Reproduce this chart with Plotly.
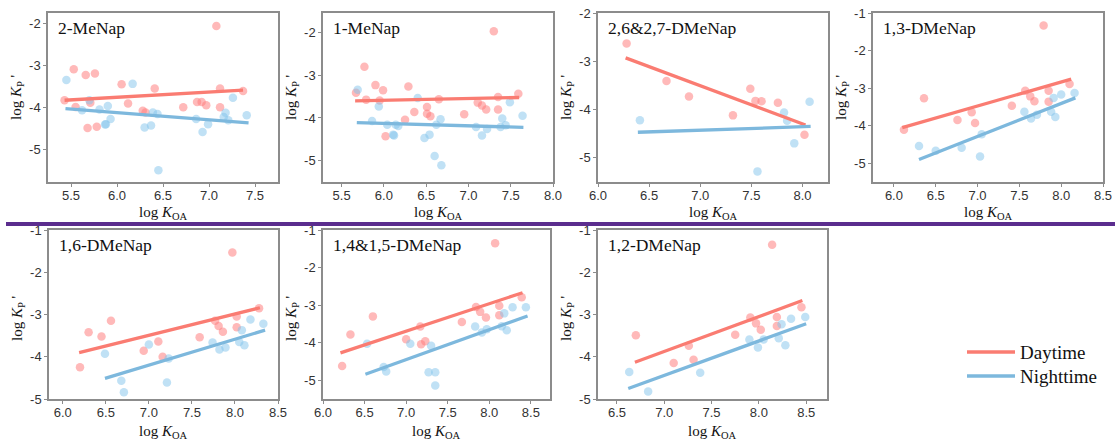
import plotly.graph_objects as go

W, H = 1119, 448

# ---------------- data (log KOA vs log Kp') ----------------
names = ["2-MeNap", "1-MeNap", "2,6&2,7-DMeNap", "1,3-DMeNap",
         "1,6-DMeNap", "1,4&1,5-DMeNap", "1,2-DMeNap"]

p1_day_x = [5.43, 5.53, 5.55, 5.66, 5.76, 5.68, 5.78, 5.71, 6.05, 6.12, 6.28, 6.31, 6.41, 6.72, 6.87, 6.92, 6.97, 7.08, 7.12, 7.12, 7.37]
p1_day_y = [-3.83, -3.09, -3.99, -3.23, -3.19, -4.49, -4.46, -3.89, -3.45, -3.91, -4.08, -4.12, -3.55, -4.00, -3.87, -3.87, -3.95, -2.06, -3.55, -4.00, -3.61]
p1_night_x = [5.45, 5.62, 5.70, 5.81, 5.88, 5.87, 5.90, 5.93, 6.17, 6.30, 6.37, 6.39, 6.44, 6.45, 6.86, 6.93, 6.99, 7.16, 7.18, 7.21, 7.26, 7.41]
p1_night_y = [-3.35, -4.07, -3.83, -4.05, -4.40, -4.41, -3.97, -4.28, -3.44, -4.48, -4.43, -4.12, -4.16, -5.50, -4.28, -4.59, -4.40, -4.23, -4.13, -4.31, -3.77, -4.19]
p1_day_fit_x, p1_day_fit_y = [5.43, 7.37], [-3.83, -3.59]
p1_night_fit_x, p1_night_fit_y = [5.44, 7.43], [-4.03, -4.37]

p2_day_x = [5.67, 5.77, 5.79, 5.90, 5.95, 5.99, 6.02, 6.25, 6.29, 6.36, 6.51, 6.51, 6.55, 6.65, 6.95, 7.11, 7.16, 7.21, 7.30, 7.35, 7.35, 7.59]
p2_day_y = [-3.41, -2.80, -3.57, -3.23, -3.59, -3.35, -4.43, -4.04, -3.26, -3.86, -3.74, -3.90, -3.96, -3.56, -3.91, -3.64, -3.71, -3.80, -1.97, -3.80, -3.51, -3.43]
p2_night_x = [5.69, 5.86, 5.94, 6.04, 6.11, 6.12, 6.14, 6.17, 6.40, 6.48, 6.54, 6.60, 6.62, 6.67, 6.68, 7.09, 7.16, 7.22, 7.38, 7.40, 7.44, 7.49, 7.64]
p2_night_y = [-3.34, -4.07, -3.73, -4.16, -4.39, -4.41, -4.16, -4.19, -3.53, -4.47, -4.39, -4.89, -4.16, -4.03, -5.11, -4.21, -4.41, -4.26, -4.21, -4.01, -4.17, -3.63, -3.95]
p2_day_fit_x, p2_day_fit_y = [5.66, 7.60], [-3.60, -3.52]
p2_night_fit_x, p2_night_fit_y = [5.68, 7.65], [-4.11, -4.22]

p3_day_x = [6.28, 6.67, 6.89, 7.32, 7.49, 7.54, 7.60, 7.76, 8.02]
p3_day_y = [-2.63, -3.41, -3.73, -4.12, -3.57, -3.82, -3.83, -3.86, -4.52]
p3_night_x = [6.41, 7.56, 7.82, 7.85, 7.92, 8.07]
p3_night_y = [-4.22, -5.28, -4.06, -4.23, -4.70, -3.84]
p3_day_fit_x, p3_day_fit_y = [6.27, 8.03], [-2.93, -4.32]
p3_night_fit_x, p3_night_fit_y = [6.39, 8.08], [-4.47, -4.35]

p4_day_x = [6.12, 6.36, 6.76, 6.93, 6.97, 7.41, 7.57, 7.63, 7.68, 7.79, 7.85, 7.85, 8.10]
p4_day_y = [-4.11, -3.27, -3.85, -3.64, -3.93, -3.47, -3.07, -3.22, -3.35, -1.33, -3.07, -3.36, -2.89]
p4_night_x = [6.30, 6.50, 6.81, 7.03, 7.05, 7.56, 7.64, 7.71, 7.88, 7.91, 7.93, 8.00, 8.16]
p4_night_y = [-4.54, -4.67, -4.59, -4.82, -4.23, -3.63, -3.81, -3.71, -3.63, -3.26, -3.77, -3.17, -3.13]
p4_day_fit_x, p4_day_fit_y = [6.10, 8.12], [-4.05, -2.76]
p4_night_fit_x, p4_night_fit_y = [6.30, 8.17], [-4.90, -3.26]

p5_day_x = [6.20, 6.30, 6.45, 6.56, 6.94, 7.11, 7.16, 7.59, 7.77, 7.81, 7.86, 7.97, 8.02, 8.02, 8.28]
p5_day_y = [-4.25, -3.42, -3.52, -3.15, -3.86, -3.64, -4.00, -3.54, -3.15, -3.27, -3.41, -1.53, -3.05, -3.30, -2.85]
p5_night_x = [6.49, 6.68, 6.71, 7.00, 7.23, 7.21, 7.74, 7.82, 7.89, 8.08, 8.05, 8.11, 8.18, 8.33]
p5_night_y = [-3.93, -4.57, -4.84, -3.71, -4.04, -4.61, -3.66, -3.83, -3.78, -3.37, -3.65, -3.73, -3.12, -3.22]
p5_day_fit_x, p5_day_fit_y = [6.19, 8.29], [-3.90, -2.84]
p5_night_fit_x, p5_night_fit_y = [6.49, 8.35], [-4.51, -3.37]

p6_day_x = [6.23, 6.33, 6.60, 7.00, 7.17, 7.18, 7.23, 7.67, 7.84, 7.89, 7.96, 8.07, 8.12, 8.12, 8.39]
p6_day_y = [-4.62, -3.78, -3.30, -3.91, -3.57, -4.04, -3.96, -3.45, -3.05, -3.18, -3.33, -1.35, -3.02, -3.27, -2.79]
p6_night_x = [6.53, 6.73, 6.76, 7.05, 7.27, 7.30, 7.35, 7.35, 7.83, 7.91, 7.97, 8.15, 8.18, 8.21, 8.28, 8.44]
p6_night_y = [-4.03, -4.65, -4.77, -4.03, -4.79, -4.08, -4.79, -5.14, -3.57, -3.73, -3.64, -3.56, -3.22, -3.67, -3.06, -3.06]
p6_day_fit_x, p6_day_fit_y = [6.21, 8.40], [-4.27, -2.67]
p6_night_fit_x, p6_night_fit_y = [6.51, 8.46], [-4.84, -3.29]

p7_day_x = [6.70, 7.10, 7.26, 7.31, 7.75, 7.91, 7.97, 8.02, 8.14, 8.19, 8.19, 8.45]
p7_day_y = [-3.49, -4.15, -3.74, -4.07, -3.48, -3.07, -3.21, -3.36, -1.35, -3.06, -3.27, -2.83]
p7_night_x = [6.63, 6.83, 7.38, 7.90, 7.99, 8.05, 8.21, 8.24, 8.28, 8.34, 8.49]
p7_night_y = [-4.36, -4.82, -4.38, -3.59, -3.78, -3.59, -3.56, -3.23, -3.73, -3.10, -3.06]
p7_day_fit_x, p7_day_fit_y = [6.69, 8.46], [-4.13, -2.67]
p7_night_fit_x, p7_night_fit_y = [6.62, 8.50], [-4.75, -3.22]

# axis ranges and ticks
x_ranges = [[5.25, 7.75], [5.28, 8.0], [6.0, 8.25], [5.75, 8.5], [5.84, 8.5], [6.0, 8.73], [6.3, 8.72]]
y_ranges = [[-5.78, -1.75], [-5.5, -1.54], [-5.5, -2.0], [-5.5, -1.0], [-5.0, -1.0], [-5.5, -1.0], [-5.0, -1.0]]
x_tickvals = [[5.5, 6.0, 6.5, 7.0, 7.5], [5.5, 6.0, 6.5, 7.0, 7.5, 8.0], [6.0, 6.5, 7.0, 7.5, 8.0],
              [6.0, 6.5, 7.0, 7.5, 8.0, 8.5], [6.0, 6.5, 7.0, 7.5, 8.0, 8.5], [6.0, 6.5, 7.0, 7.5, 8.0, 8.5],
              [6.5, 7.0, 7.5, 8.0, 8.5]]
y_tickvals = [[-5, -4, -3, -2], [-5, -4, -3, -2], [-5, -4, -3, -2], [-5, -4, -3, -2, -1],
              [-5, -4, -3, -2, -1], [-5, -4, -3, -2, -1], [-5, -4, -3, -2, -1]]

series_labels = ["Daytime", "Nighttime"]

# ---------------- styling / layout ----------------
DAY_LINE = "#FA7C72"
NIGHT_LINE = "#7DB8DD"
DAY_MARK = "rgba(255,128,128,0.55)"
NIGHT_MARK = "rgba(130,195,236,0.50)"
FRAME = "#8c8c8c"
SERIF = "Liberation Serif"
SANS = "Liberation Sans"

# panel boxes in pixels: (left, right, top, bottom)
boxes = [(48, 278, 13, 182), (323, 553, 13, 182), (598, 828, 13, 182), (873, 1103, 13, 182),
         (49, 278, 230, 399), (323, 550, 230, 399), (598, 827, 230, 399)]

def px(x):
    return x / W

def py(y):
    return 1 - y / H

panels = [
    (p1_day_x, p1_day_y, p1_night_x, p1_night_y, p1_day_fit_x, p1_day_fit_y, p1_night_fit_x, p1_night_fit_y),
    (p2_day_x, p2_day_y, p2_night_x, p2_night_y, p2_day_fit_x, p2_day_fit_y, p2_night_fit_x, p2_night_fit_y),
    (p3_day_x, p3_day_y, p3_night_x, p3_night_y, p3_day_fit_x, p3_day_fit_y, p3_night_fit_x, p3_night_fit_y),
    (p4_day_x, p4_day_y, p4_night_x, p4_night_y, p4_day_fit_x, p4_day_fit_y, p4_night_fit_x, p4_night_fit_y),
    (p5_day_x, p5_day_y, p5_night_x, p5_night_y, p5_day_fit_x, p5_day_fit_y, p5_night_fit_x, p5_night_fit_y),
    (p6_day_x, p6_day_y, p6_night_x, p6_night_y, p6_day_fit_x, p6_day_fit_y, p6_night_fit_x, p6_night_fit_y),
    (p7_day_x, p7_day_y, p7_night_x, p7_night_y, p7_day_fit_x, p7_day_fit_y, p7_night_fit_x, p7_night_fit_y),
]

fig = go.Figure()
layout = dict(
    width=W, height=H,
    margin=dict(l=0, r=0, t=0, b=0, pad=0),
    paper_bgcolor="white", plot_bgcolor="white",
    showlegend=False,
)
annotations = []
shapes = []

for i, (dx, dy, nx, ny, dfx, dfy, nfx, nfy) in enumerate(panels):
    k = i + 1
    xa = "x" if k == 1 else f"x{k}"
    ya = "y" if k == 1 else f"y{k}"
    l, r, t, b = boxes[i]

    fig.add_trace(go.Scatter(x=dx, y=dy, mode="markers", xaxis=xa, yaxis=ya,
                             marker=dict(size=8.5, color=DAY_MARK, line=dict(width=0)),
                             name=series_labels[0], hoverinfo="x+y"))
    fig.add_trace(go.Scatter(x=nx, y=ny, mode="markers", xaxis=xa, yaxis=ya,
                             marker=dict(size=8.5, color=NIGHT_MARK, line=dict(width=0)),
                             name=series_labels[1], hoverinfo="x+y"))
    fig.add_trace(go.Scatter(x=dfx, y=dfy, mode="lines", xaxis=xa, yaxis=ya,
                             line=dict(color=DAY_LINE, width=3.3), name=series_labels[0]))
    fig.add_trace(go.Scatter(x=nfx, y=nfy, mode="lines", xaxis=xa, yaxis=ya,
                             line=dict(color=NIGHT_LINE, width=3.3), name=series_labels[1]))

    common = dict(showline=True, mirror=True, linecolor=FRAME, linewidth=1.5,
                  ticks="outside", ticklen=3, tickcolor=FRAME, tickwidth=1,
                  showgrid=False, zeroline=False, automargin=False,
                  tickfont=dict(family=SANS, size=13, color="#333333"))
    layout["xaxis" if k == 1 else f"xaxis{k}"] = dict(
        domain=[px(l), px(r)], anchor=ya, range=x_ranges[i], ticklabelstandoff=-2,
        tickvals=x_tickvals[i], ticktext=[f"{v:.1f}" for v in x_tickvals[i]], **common)
    layout["yaxis" if k == 1 else f"yaxis{k}"] = dict(
        domain=[py(b), py(t)], anchor=xa, range=y_ranges[i],
        tickvals=y_tickvals[i], ticktext=[f"-{abs(v)}" for v in y_tickvals[i]], **common)

    # panel label
    annotations.append(dict(x=px(l + 8), y=py(t + 15), xref="paper", yref="paper",
                            text=names[i], showarrow=False, xanchor="left", yanchor="middle",
                            font=dict(family=SERIF, size=17.5, color="#111111")))
    # y-axis title
    ytc = 97 if t < 100 else 318
    annotations.append(dict(x=px(l - 31), y=py(ytc), xref="paper", yref="paper",
                            text="log <i>K</i><sub>P</sub> '", textangle=-90, showarrow=False,
                            xanchor="center", yanchor="middle",
                            font=dict(family=SERIF, size=15, color="#111111")))
    # x-axis title
    xtc = 213 if t < 100 else 432
    annotations.append(dict(x=px((l + r) / 2), y=py(xtc), xref="paper", yref="paper",
                            text="log <i>K</i><sub>OA</sub>", showarrow=False,
                            xanchor="center", yanchor="middle",
                            font=dict(family=SERIF, size=15, color="#111111")))

# separator line between rows
shapes.append(dict(type="line", xref="paper", yref="paper",
                   x0=px(6), x1=px(1115), y0=py(224), y1=py(224),
                   line=dict(color="#5B2D8E", width=4)))

# legend (drawn manually)
for label, color, yy in [(series_labels[0], DAY_LINE, 352), (series_labels[1], NIGHT_LINE, 376)]:
    shapes.append(dict(type="line", xref="paper", yref="paper",
                       x0=px(967), x1=px(1015), y0=py(yy), y1=py(yy),
                       line=dict(color=color, width=3.5)))
    annotations.append(dict(x=px(1018), y=py(yy), xref="paper", yref="paper",
                            text=label, showarrow=False, xanchor="left", yanchor="middle",
                            font=dict(family=SERIF, size=19, color="#111111")))

layout["annotations"] = annotations
layout["shapes"] = shapes
fig.update_layout(**layout)

fig.write_html("out.html", config={"displayModeBar": False},
               post_script="document.body.style.margin='0';document.body.style.padding='0';")
